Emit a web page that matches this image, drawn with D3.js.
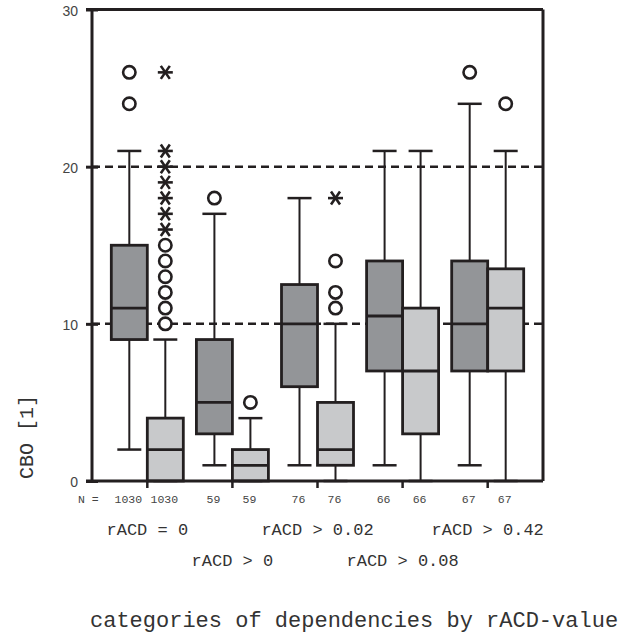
<!DOCTYPE html>
<html>
<head>
<meta charset="utf-8">
<script src="https://cdn.jsdelivr.net/npm/d3@7"></script>
<style>
  html, body { margin: 0; padding: 0; background: #fff; }
  svg { display: block; }
</style>
</head>
<body>
<svg id="chart" width="638" height="635"></svg>
<script>
// ---------------- DATA ----------------
const groups = ["rACD = 0", "rACD > 0", "rACD > 0.02", "rACD > 0.08", "rACD > 0.42"];
const seriesKeys = ["dark", "light"];
const nDark  = [1030, 59, 76, 66, 67];
const nLight = [1030, 59, 76, 66, 67];
// [whiskerLow, q1, median, q3, whiskerHigh]
const statsDark = [
  [2, 9, 11, 15, 21],
  [1, 3, 5, 9, 17],
  [1, 6, 10, 12.5, 18],
  [1, 7, 10.5, 14, 21],
  [1, 7, 10, 14, 24]
];
const statsLight = [
  [0, 0, 2, 4, 9],
  [0, 0, 1, 2, 4],
  [0, 1, 2, 5, 10],
  [0, 3, 7, 11, 21],
  [0, 7, 11, 13.5, 21]
];
const outliersDark  = [[24, 26], [18], [], [], [26]];
const outliersLight = [[10, 11, 12, 13, 14, 15], [5], [11, 12, 14], [], [24]];
const extremesDark  = [[], [], [], [], []];
const extremesLight = [[16, 17, 18, 19, 20, 21, 26], [], [18], [], []];
const yTicks = [0, 10, 20, 30];
const refLines = [10, 20];
const yTitle = "CBO [1]";
const xTitle = "categories of dependencies by rACD-value";

// ---------------- LAYOUT ----------------
const svg = d3.select("#chart");
const L = 92, R = 543, T = 9.5, B = 481;
const ink = "#231f20";
const fills = { dark: "#939598", light: "#c8c9cb" };

const x = d3.scaleBand().domain(groups).range([L, R]).paddingInner(0).paddingOuter(0.15);
const sub = d3.scaleBand().domain(seriesKeys).range([-36, 36]).padding(0);
const y = d3.scaleLinear().domain([0, 30]).range([B, T]);

const boxes = [];
groups.forEach((g, i) => {
  boxes.push({ g, key: "dark",  s: statsDark[i],  n: nDark[i],  out: outliersDark[i],  ext: extremesDark[i] });
  boxes.push({ g, key: "light", s: statsLight[i], n: nLight[i], out: outliersLight[i], ext: extremesLight[i] });
});
const bx = d => x(d.g) + x.bandwidth() / 2 + sub(d.key);
const bw = sub.bandwidth();
const bc = d => bx(d) + bw / 2;

// reference dashed lines
svg.append("g").selectAll("line").data(refLines).join("line")
  .attr("x1", L).attr("x2", R)
  .attr("y1", d => y(d)).attr("y2", d => y(d))
  .attr("stroke", ink).attr("stroke-width", 2.5)
  .attr("stroke-dasharray", "8,5");

const bg = svg.append("g").selectAll("g").data(boxes).join("g");

// whiskers
bg.append("line")
  .attr("x1", bc).attr("x2", bc)
  .attr("y1", d => y(d.s[0])).attr("y2", d => y(d.s[1]))
  .attr("stroke", ink).attr("stroke-width", 2);
bg.append("line")
  .attr("x1", bc).attr("x2", bc)
  .attr("y1", d => y(d.s[3])).attr("y2", d => y(d.s[4]))
  .attr("stroke", ink).attr("stroke-width", 2);
// caps
[0, 4].forEach(k => {
  bg.append("line")
    .attr("x1", d => bc(d) - 12).attr("x2", d => bc(d) + 12)
    .attr("y1", d => y(d.s[k])).attr("y2", d => y(d.s[k]))
    .attr("stroke", ink).attr("stroke-width", 2.5);
});
// box
bg.append("rect")
  .attr("x", bx).attr("width", bw)
  .attr("y", d => y(d.s[3])).attr("height", d => y(d.s[1]) - y(d.s[3]))
  .attr("fill", d => fills[d.key])
  .attr("stroke", ink).attr("stroke-width", 2.8);
// median
bg.append("line")
  .attr("x1", bx).attr("x2", d => bx(d) + bw)
  .attr("y1", d => y(d.s[2])).attr("y2", d => y(d.s[2]))
  .attr("stroke", ink).attr("stroke-width", 2.8);

// outliers (circles)
bg.each(function(d) {
  const g = d3.select(this);
  g.selectAll("circle").data(d.out).join("circle")
    .attr("cx", bc(d)).attr("cy", v => y(v)).attr("r", 6.2)
    .attr("fill", "#fff").attr("stroke", ink).attr("stroke-width", 2.6);
  const star = g.selectAll("g.star").data(d.ext).join("g").attr("class", "star")
    .attr("transform", v => `translate(${bc(d)},${y(v)})`);
  [[-7.5, 0, 7.5, 0], [-4.5, -6.5, 4.5, 6.5], [-4.5, 6.5, 4.5, -6.5]].forEach(c => {
    star.append("line").attr("x1", c[0]).attr("y1", c[1]).attr("x2", c[2]).attr("y2", c[3])
      .attr("stroke", ink).attr("stroke-width", 2.6);
  });
});

// frame
const frame = svg.append("g").attr("stroke", ink).attr("stroke-width", 3).attr("fill", "none");
frame.append("line").attr("x1", L).attr("x2", L).attr("y1", T).attr("y2", B);
frame.append("line").attr("x1", R).attr("x2", R).attr("y1", T).attr("y2", B);
frame.append("line").attr("x1", L - 6).attr("x2", R).attr("y1", T).attr("y2", T);
frame.append("line").attr("x1", L - 6).attr("x2", R).attr("y1", B).attr("y2", B);

// y axis
const yAxis = d3.axisLeft(y).tickValues(yTicks).tickSize(6).tickSizeOuter(0).tickPadding(8);
const ya = svg.append("g").attr("transform", `translate(${L},0)`).call(yAxis);
ya.select(".domain").remove();
ya.selectAll(".tick line").attr("stroke", ink).attr("stroke-width", 3).attr("x2", 6).attr("x1", -6);
ya.selectAll(".tick text").attr("font-family", "'Liberation Sans', Arial, sans-serif")
  .attr("font-size", 14).attr("fill", "#444").attr("x", -14).attr("dy", "0.4em");

// x axis ticks at group centres
const xAxis = d3.axisBottom(x).tickSize(7).tickSizeOuter(0).tickFormat("");
const xa = svg.append("g").attr("transform", `translate(0,${B})`).call(xAxis);
xa.select(".domain").remove();
xa.selectAll(".tick line").attr("stroke", ink).attr("stroke-width", 2.5);

// N labels
const mono = "'Liberation Mono', 'Courier New', monospace";
svg.append("text").attr("x", 78).attr("y", 503).attr("font-family", mono)
  .attr("font-size", 11.5).attr("fill", "#444").text("N =");
svg.append("g").selectAll("text").data(boxes).join("text")
  .attr("x", d => bc(d) - 1).attr("y", 503).attr("text-anchor", "middle")
  .attr("font-family", mono).attr("font-size", 11.5).attr("fill", "#444")
  .text(d => d.n);

// category labels (alternating rows)
svg.append("g").selectAll("text").data(groups).join("text")
  .attr("x", d => x(d) + x.bandwidth() / 2)
  .attr("y", (d, i) => i % 2 === 0 ? 535 : 566)
  .attr("text-anchor", "middle")
  .attr("font-family", mono).attr("font-size", 17).attr("fill", "#333")
  .text(d => d);

// axis titles
svg.append("text").attr("transform", "translate(33,437) rotate(-90)")
  .attr("text-anchor", "middle").attr("font-family", mono).attr("font-size", 20)
  .attr("fill", "#333").text(yTitle);
svg.append("text").attr("x", 90).attr("y", 627)
  .attr("font-family", mono).attr("font-size", 22).attr("fill", "#333")
  .text(xTitle);
</script>
</body>
</html>
